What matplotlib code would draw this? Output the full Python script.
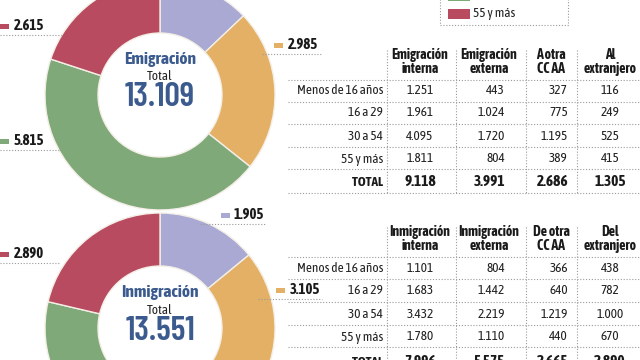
import matplotlib
matplotlib.use("Agg")
import matplotlib.pyplot as plt
from matplotlib import font_manager
from matplotlib.patches import Rectangle

# ---------------- data ----------------
categories = ["Menos de 16 años", "16 a 29", "30 a 54", "55 y más"]

emi_donut = [1694, 2985, 5815, 2615]
emi_total = 13109
emi_headers = ["Emigración\ninterna", "Emigración\nexterna", "A otra\nCC AA", "Al\nextranjero"]
emi_interna = [1251, 1961, 4095, 1811]
emi_externa = [443, 1024, 1720, 804]
emi_otra = [327, 775, 1195, 389]
emi_extranjero = [116, 249, 525, 415]
emi_totals = [9118, 3991, 2686, 1305]

inm_donut = [1905, 3105, 5651, 2890]
inm_total = 13551
inm_headers = ["Inmigración\ninterna", "Inmigración\nexterna", "De otra\nCC AA", "Del\nextranjero"]
inm_interna = [1101, 1683, 3432, 1780]
inm_externa = [804, 1442, 2219, 1110]
inm_otra = [366, 640, 1219, 440]
inm_extranjero = [438, 782, 1000, 670]
inm_totals = [7996, 5575, 2665, 2890]

colors = ["#a9a9d3", "#e3b065", "#80a979", "#b84b5f"]
title_color = "#3b5a8e"

# ---------------- fonts ----------------
names = {f.name for f in font_manager.fontManager.ttflist}


def pick(*cands):
    for c in cands:
        if c in names:
            return c
    return "DejaVu Sans"


NARROW = pick("Asap Condensed", "Archivo Narrow", "Barlow Condensed", "Liberation Sans Narrow")
BIG = pick("Barlow Condensed", "Asap Condensed", "Archivo Narrow")


def fmt(v):
    return f"{v:,}".replace(",", ".")


W, H = 640, 360
fig = plt.figure(figsize=(6.4, 3.6), dpi=100)
fig.patch.set_facecolor("white")
ax = fig.add_axes([0, 0, 1, 1])


def Y(p):
    return H - p


DOT = dict(color="#9a9a9a", linestyle=(0, (1, 1.6)), linewidth=0.8)
TXT = "#222222"


def donut(cx, cy, values, title, total):
    ax.pie(values, colors=colors, startangle=90, counterclock=False,
           center=(cx, Y(cy)), radius=115,
           wedgeprops=dict(width=53, edgecolor="#f4efe6", linewidth=1.0))
    ax.text(cx, Y(cy - 36), title, ha="center", va="center", fontsize=12.5,
            fontweight="bold", family=NARROW, color=title_color)
    ax.text(cx, Y(cy - 18), "Total", ha="center", va="center", fontsize=9.5,
            family=NARROW, color=TXT)
    ax.text(cx, Y(cy + 3), fmt(total), ha="center", va="center", fontsize=24.5,
            fontweight="semibold", family=BIG, color=title_color)


def label(value, color, xm, xt, y, x0, x1):
    ax.add_patch(Rectangle((xm, Y(y) - 2.5), 9, 5, color=color, lw=0))
    ax.text(xt, Y(y), fmt(value), ha="left", va="center", fontsize=10.5,
            fontweight="bold", family=NARROW, color="#1a1a1a")
    ax.plot([x0, x1], [Y(y + 8.5), Y(y + 8.5)], **DOT)


donut(160, 95, emi_donut, "Emigración", emi_total)
donut(160, 328, inm_donut, "Inmigración", inm_total)

# donut value labels
label(emi_donut[3], colors[3], 0, 14, 26, 0, 62)
label(emi_donut[2], colors[2], 0, 14, 141, 0, 60)
label(emi_donut[1], colors[1], 274, 288, 45, 262, 322)
label(inm_donut[0], colors[0], 221, 234, 215, 200, 266)
label(inm_donut[3], colors[3], 0, 14, 254, 0, 60)
label(inm_donut[1], colors[1], 276, 290, 290, 258, 322)


def table(headers, cols, totals, h_y, row_y, hlines, vtop, vbot):
    col_x = [420, 505, 568, 610]
    col_ha = ["center", "right", "right", "center"]
    head_x = [420, 489, 551, 610]
    for hx, h in zip(head_x, headers):
        ax.text(hx, Y(h_y), h, ha="center", va="center", fontsize=10,
                fontweight="bold", family=NARROW, color="#1a1a1a",
                linespacing=0.95)
    for i, cat in enumerate(categories):
        ax.text(383, Y(row_y[i]), cat, ha="right", va="center", fontsize=9.5,
                family=NARROW, color=TXT)
        for j, col in enumerate(cols):
            ax.text(col_x[j], Y(row_y[i]), fmt(col[i]), ha=col_ha[j],
                    va="center", fontsize=9.5, family=NARROW, color=TXT)
    ax.text(383, Y(row_y[4]), "TOTAL", ha="right", va="center", fontsize=9.5,
            fontweight="bold", family=NARROW, color="#1a1a1a")
    for j, t in enumerate(totals):
        ax.text(col_x[j], Y(row_y[4]), fmt(t), ha=col_ha[j], va="center",
                fontsize=11, fontweight="bold", family=NARROW, color="#1a1a1a")
    for hy in hlines:
        ax.plot([288, 640], [Y(hy), Y(hy)], **DOT)
    for vx in [387, 456, 526, 577]:
        ax.plot([vx, vx], [Y(vtop), Y(vbot)], **DOT)


table(emi_headers, [emi_interna, emi_externa, emi_otra, emi_extranjero],
      emi_totals, 62, [90, 113, 137, 159, 182],
      [80, 102, 124, 147, 169, 193], 50, 193)
table(inm_headers, [inm_interna, inm_externa, inm_otra, inm_extranjero],
      inm_totals, 239, [268, 291, 314, 337, 362],
      [257, 279, 302, 325, 347], 227, 365)

# legend (partially visible at top)
ax.plot([440, 440, 568, 568], [Y(-5), Y(25), Y(25), Y(-5)], **DOT)
leg_items = [(categories[2], colors[2], -4), (categories[3], colors[3], 14)]
for txt, c, ly in leg_items:
    ax.add_patch(Rectangle((448, Y(ly) - 5), 22, 10, color=c, lw=0))
    ax.text(473, Y(ly), txt, ha="left", va="center", fontsize=9.5,
            family=NARROW, color=TXT)

ax.set_xlim(0, W)
ax.set_ylim(0, H)
ax.set_aspect("auto")
ax.axis("off")
fig.savefig("out.png", dpi=100, facecolor="white")
